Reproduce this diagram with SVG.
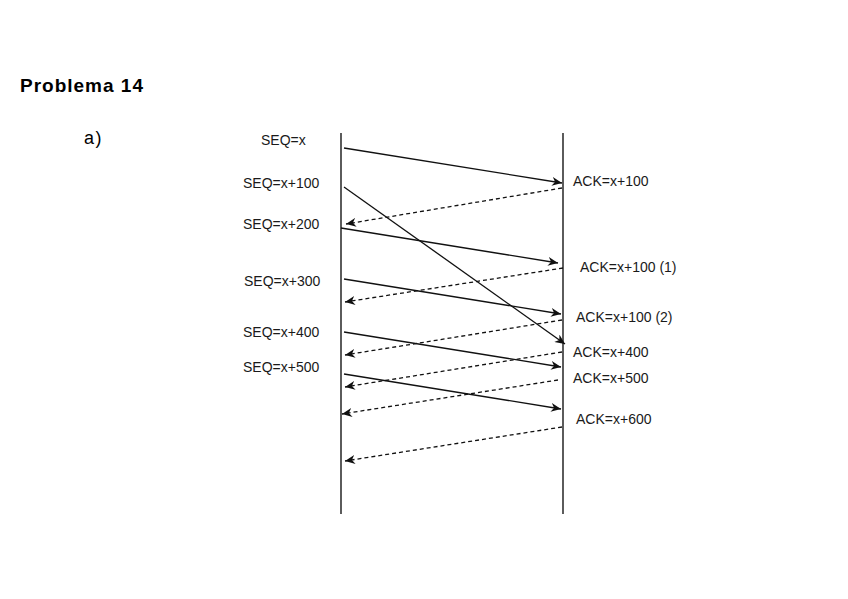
<svg xmlns="http://www.w3.org/2000/svg" width="848" height="599" viewBox="0 0 848 599">
<defs>
<style>
.t{font-family:"Liberation Sans",Arial,sans-serif;font-size:14px;fill:#1a1a1a}
.h{font-family:"Liberation Sans",Arial,sans-serif;font-weight:bold;font-size:19px;fill:#000;letter-spacing:1px}
.a{font-family:"Liberation Sans",Arial,sans-serif;font-size:18px;fill:#000;letter-spacing:1.5px}
.life{stroke:#333;stroke-width:1.6;fill:none}
.msg{stroke:#111;stroke-width:1.3;fill:none;marker-end:url(#ah)}
.dash{stroke-dasharray:4 3}
</style>
<marker id="ah" markerUnits="userSpaceOnUse" markerWidth="11" markerHeight="9" refX="10" refY="4.5" orient="auto">
<path d="M0,0 L10,4.5 L0,9 L3,4.5 z" fill="#111"/>
</marker>
</defs>
<rect width="848" height="599" fill="#fff"/>
<text class="h" x="20" y="92">Problema 14</text>
<text class="a" x="84" y="144">a)</text>
<g id="lifelines">
<line id="sender" class="life" x1="341" y1="133" x2="341" y2="514"/>
<line id="receiver" class="life" x1="563" y1="133" x2="563" y2="514"/>
</g>
<g id="labels-left">
<text class="t" x="261" y="145">SEQ=x</text>
<text class="t" x="243" y="187.5">SEQ=x+100</text>
<text class="t" x="243" y="229">SEQ=x+200</text>
<text class="t" x="244" y="286">SEQ=x+300</text>
<text class="t" x="243" y="337">SEQ=x+400</text>
<text class="t" x="243" y="372">SEQ=x+500</text>
</g>
<g id="labels-right">
<text class="t" x="573" y="186">ACK=x+100</text>
<text class="t" x="580" y="271.5">ACK=x+100 (1)</text>
<text class="t" x="576" y="322">ACK=x+100 (2)</text>
<text class="t" x="573" y="356.5">ACK=x+400</text>
<text class="t" x="573" y="383">ACK=x+500</text>
<text class="t" x="576" y="424">ACK=x+600</text>
</g>
<g id="connectors">
<line class="msg" x1="344" y1="148" x2="562" y2="183"/>
<line class="msg" x1="344" y1="187" x2="565" y2="344"/>
<line class="msg dash" x1="562" y1="188" x2="346" y2="224"/>
<line class="msg" x1="341" y1="228" x2="558" y2="263"/>
<line class="msg dash" x1="563" y1="268" x2="345" y2="302"/>
<line class="msg" x1="344" y1="279" x2="561" y2="314"/>
<line class="msg dash" x1="562" y1="320" x2="345" y2="355"/>
<line class="msg" x1="344" y1="332" x2="561" y2="367"/>
<line class="msg dash" x1="562" y1="352" x2="345" y2="387"/>
<line class="msg" x1="344" y1="374" x2="561" y2="409"/>
<line class="msg dash" x1="558" y1="380" x2="342" y2="414"/>
<line class="msg dash" x1="562" y1="427" x2="345" y2="461"/>
</g>
</svg>
